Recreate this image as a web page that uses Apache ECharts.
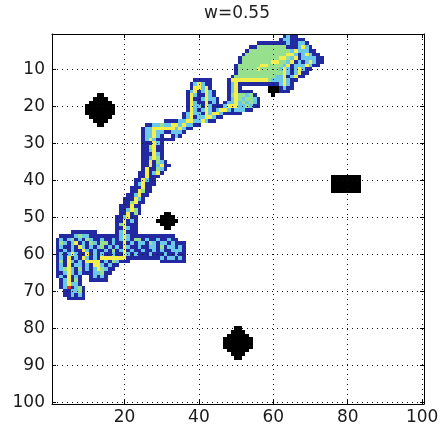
<!DOCTYPE html>
<html>
<head>
<meta charset="utf-8">
<script src="https://cdn.jsdelivr.net/npm/echarts@6/dist/echarts.min.js"></script>
<style>html,body{margin:0;padding:0;background:#fff}#c{width:442px;height:433px}</style>
</head>
<body>
<div id="c"></div>
<script>
// ---- data ----
const title = 'w=0.55';
const xTicks = [20, 40, 60, 80, 100];
const yTicks = [10, 20, 30, 40, 50, 60, 70, 80, 90, 100];
// cell classes: B dark blue, c light blue, g green, y yellow, r red, K black obstacle
const levels = ['B', 'c', 'g', 'y', 'r', 'K'];
const levelColors = ['#2329a0', '#6cc8ea', '#96e08e', '#f3ee4c', '#e0301e', '#000000'];

// cell runs: [row, first column, classes of consecutive cells ('.' = empty)]
const topBlob = [
  [1, 63, 'BcBB'],
  [2, 62, 'BccBBBB'],
  [3, 56, 'BBBBBBBBcBBccB'],
  [4, 54, 'BBggggggggBBBcycB'],
  [5, 53, 'BgggggggggggcycccBB'],
  [6, 52, 'BgggggggggggyycBcycBB'],
  [7, 51, 'BggggggggggyygcyBccccBB'],
  [8, 51, 'BggggggggyyggcyBcBcycBB'],
  [9, 50, 'BggggggyyggggcyBcccycBB'],
  [10, 50, 'BgggggygggggcycBcycBB'],
  [11, 50, 'BggggggggggggycBcyBB'],
  [12, 49, 'BgggggggggggccyBcyBB'],
  [13, 48, 'ByyyyyyyyyygcccycBB'],
  [14, 48, 'BcyBBBBBBBBBBBcycB'],
  [15, 48, 'BcyB'],
  [16, 48, 'BcyBBBB'],
  [17, 48, 'BgyggcgB'],
  [18, 48, 'BcygcggcB'],
  [19, 47, 'BccycgcgcB'],
  [20, 46, 'BcyyyccgcBB']
];
const spine = [
  [13, 39, 'BBBBB'],
  [14, 38, 'BcycBB'],
  [15, 38, 'ByycyB'],
  [16, 37, 'BcyBcycB'],
  [17, 37, 'BycBBycB'],
  [18, 37, 'ByBBcyccB'],
  [19, 37, 'BycBByBcB'],
  [20, 37, 'ByccBycBB'],
  [21, 37, 'BycBcycBcyycBcccBB'],
  [22, 36, 'BcyccBycyycBBBBB'],
  [23, 36, 'BcyBccyycBB'],
  [24, 31, 'BBBBccyyccycBB'],
  [25, 26, 'BBccgccyycyccBB'],
  [26, 25, 'BccyyyyyycycBB'],
  [27, 25, 'BccyccBBcccB'],
  [28, 25, 'BccycB..BcB'],
  [29, 25, 'BcycBBBBB'],
  [30, 25, 'BBBycB'],
  [31, 25, 'BBgyBB'],
  [32, 25, 'BBcyBB'],
  [33, 25, 'BBBycB'],
  [34, 25, 'BBcygB'],
  [35, 25, 'BByBgcB'],
  [36, 25, 'BByBcyBB'],
  [37, 25, 'ByBBgcB'],
  [38, 24, 'BByBcyB'],
  [39, 24, 'BByBBB'],
  [40, 23, 'BBycBB'],
  [41, 23, 'BcyBBB'],
  [42, 22, 'BBByBB'],
  [43, 22, 'BBygBB'],
  [44, 21, 'BBcyBB'],
  [45, 20, 'BBBycB'],
  [46, 20, 'BBgyBB'],
  [47, 19, 'BBByBB'],
  [48, 19, 'BBcygB'],
  [49, 19, 'BByBgB'],
  [50, 18, 'BBcyBB'],
  [51, 18, 'BByBcB'],
  [52, 18, 'BgyBBB'],
  [53, 18, 'BBycBB'],
  [54, 18, 'BcyBBB']
];
const lowerBlob = [
  [54, 6, 'BBBBBBB'],
  [55, 3, 'BBBBcgccBBBBBBBBcycBBBBBBBBBBBB'],
  [56, 2, 'BcBcgBcBgcBBcBBcBcycBggBcBBcBBcBB'],
  [57, 2, 'BgcBcyBcBgcBggBcBByBcBccBgcBccBcBBB'],
  [58, 2, 'BcBBcBycBcBcgBcBcBycBBcBBccBgBccBcB'],
  [59, 2, 'BBcBcBBycBcBBcBgBcyBcBBcBBcBcBBcccB'],
  [60, 2, 'BcBcycBByBcBcBBcBBycBcBBBcBBBcBBcBB'],
  [61, 2, 'BcByBcBycBcByyyyyyyBBBBBBBBBcBccBcB'],
  [62, 2, 'BgBycBcByyyyBcBgcBBB'],
  [62, 30, 'BBBBBBB'],
  [63, 2, 'BcByBccBcByycBcBB'],
  [64, 2, 'BcgycBgBcBcygcBB'],
  [65, 2, 'BBcycBcBBBccgBB'],
  [66, 2, 'BcByBcB'],
  [66, 11, 'BcBcB'],
  [67, 3, 'BcyBgB'],
  [67, 11, 'BBBBB'],
  [68, 3, 'BcyccB'],
  [69, 3, 'BcrBcgB'],
  [70, 4, 'BBccgB'],
  [71, 4, 'BBcBcB'],
  [72, 5, 'BBBBB']
];
const obstacles = [
  [15, 59, 'KKK'], [16, 59, 'KKK'], [17, 60, 'K'],
  [15, 62, 'BcBB'], [16, 62, 'BBB'],
  [17, 13, 'KK'], [18, 12, 'KKKK'], [19, 11, 'KKKKKK'], [20, 10, 'KKKKKKKK'],
  [21, 10, 'KKKKKKKK'], [22, 10, 'KKKKKKKK'], [23, 11, 'KKKKKK'], [24, 12, 'KKKK'], [25, 13, 'KK'],
  [49, 31, 'KK'], [50, 30, 'KKKK'], [51, 29, 'KKKKKK'], [52, 30, 'KKKK'], [53, 31, 'KK'],
  [39, 76, 'KKKKKKKK'], [40, 76, 'KKKKKKKK'], [41, 76, 'KKKKKKKK'], [42, 76, 'KKKKKKKK'], [43, 76, 'KKKKKKKK'],
  [80, 50, 'KK'], [81, 49, 'KKKK'], [82, 48, 'KKKKKK'], [83, 47, 'KKKKKKKK'],
  [84, 47, 'KKKKKKKK'], [85, 47, 'KKKKKKKK'], [86, 48, 'KKKKKK'], [87, 49, 'KKKK'], [88, 50, 'KK']
];

// ---- build cells ----
const cells = [];
[topBlob, spine, lowerBlob, obstacles].forEach(function (group) {
  group.forEach(function (run) {
    const row = run[0], col = run[1], pat = run[2];
    for (let i = 0; i < pat.length; i++) {
      const k = levels.indexOf(pat[i]);
      if (k >= 0) cells.push([col + i, row, k]);
    }
  });
});

const FONT = '"DejaVu Sans", Verdana, sans-serif';
const labelStyle = { fontFamily: FONT, fontSize: 17, color: '#1a1a1a' };

function renderItem(params, api) {
  const x = api.value(0), y = api.value(1), k = api.value(2);
  const p0 = api.coord([x - 0.5, y - 0.5]);
  const p1 = api.coord([x + 0.5, y + 0.5]);
  const x0 = Math.round(Math.min(p0[0], p1[0])), x1 = Math.round(Math.max(p0[0], p1[0]));
  const y0 = Math.round(Math.min(p0[1], p1[1])), y1 = Math.round(Math.max(p0[1], p1[1]));
  return {
    type: 'rect',
    shape: { x: x0, y: y0, width: x1 - x0, height: y1 - y0 },
    style: { fill: levelColors[k] }
  };
}

const chart = echarts.init(document.getElementById('c'), null, { renderer: 'canvas' });
const lineCol = '#000';
const gridLine = { show: true, lineStyle: { color: '#111', width: 1, type: [1, 4] } };
chart.setOption({
  animation: false,
  backgroundColor: '#fff',
  graphic: [{
    type: 'text', x: 237, y: 14, z: 20,
    style: { text: title, font: '17px ' + FONT, fill: '#222', align: 'center', verticalAlign: 'middle' }
  }],
  grid: { left: 52, right: 18, top: 34, bottom: 29 },
  xAxis: [{
    type: 'value', min: 0.5, max: 100.5, splitNumber: 5, position: 'bottom', z: 10,
    axisLine: { show: true, onZero: false, lineStyle: { color: lineCol, width: 1 } },
    axisTick: { show: true, inside: true, length: 4, customValues: xTicks, lineStyle: { color: lineCol } },
    axisLabel: { show: true, customValues: xTicks, margin: 5, ...labelStyle },
    splitLine: gridLine
  }, {
    type: 'value', min: 0.5, max: 100.5, splitNumber: 5, position: 'top', z: 10,
    axisLine: { show: true, onZero: false, lineStyle: { color: lineCol, width: 1 } },
    axisTick: { show: true, inside: true, length: 4, customValues: xTicks, lineStyle: { color: lineCol } },
    axisLabel: { show: false },
    splitLine: { show: false }
  }],
  yAxis: [{
    type: 'value', min: 0.5, max: 100.5, splitNumber: 10, inverse: true, position: 'left', z: 10,
    axisLine: { show: true, onZero: false, lineStyle: { color: lineCol, width: 1 } },
    axisTick: { show: true, inside: true, length: 4, customValues: yTicks, lineStyle: { color: lineCol } },
    axisLabel: { show: true, customValues: yTicks, margin: 7, ...labelStyle },
    splitLine: gridLine
  }, {
    type: 'value', min: 0.5, max: 100.5, splitNumber: 10, inverse: true, position: 'right', z: 10,
    axisLine: { show: true, onZero: false, lineStyle: { color: lineCol, width: 1 } },
    axisTick: { show: true, inside: true, length: 4, customValues: yTicks, lineStyle: { color: lineCol } },
    axisLabel: { show: false },
    splitLine: { show: false }
  }],
  series: [{
    type: 'custom',
    xAxisIndex: 0, yAxisIndex: 0,
    coordinateSystem: 'cartesian2d',
    renderItem: renderItem,
    encode: { x: 0, y: 1 },
    data: cells,
    silent: true,
    z: 2
  }]
});
</script>
</body>
</html>
